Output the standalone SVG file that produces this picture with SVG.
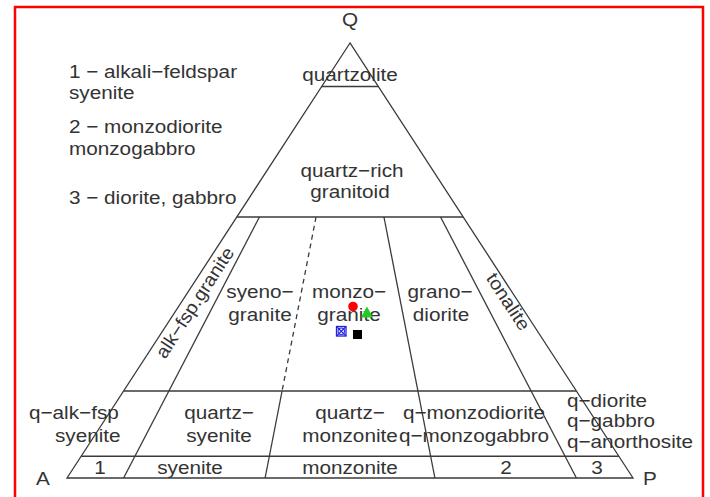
<svg xmlns="http://www.w3.org/2000/svg" width="710" height="497" viewBox="0 0 710 497">
<style>
.t{font-family:"Liberation Sans",Arial,Helvetica,sans-serif;font-size:18.5px;fill:#333}
.m{text-anchor:middle}
.ln{stroke:#3a3a3a;stroke-width:1.3;fill:none}
.ds{stroke-dasharray:5,4}
</style>
<rect x="0" y="0" width="710" height="497" fill="#fff"/>
<rect x="15" y="7" width="688" height="510" fill="none" stroke="#ff0000" stroke-width="2.5"/>
<g id="connectors">
<polygon class="ln" points="350,43 67,478 633,478"/>
<line class="ln" x1="321.7" y1="86.5" x2="378.3" y2="86.5"/>
<line class="ln" x1="236.8" y1="217" x2="463.2" y2="217"/>
<line class="ln" x1="123.6" y1="391" x2="576.4" y2="391"/>
<line class="ln" x1="81.15" y1="456.25" x2="618.85" y2="456.25"/>
<line class="ln" x1="259.44" y1="217" x2="123.6" y2="478"/>
<line class="ln ds" x1="316.04" y1="217" x2="282.08" y2="391"/>
<line class="ln" x1="282.08" y1="391" x2="265.1" y2="478"/>
<line class="ln" x1="383.96" y1="217" x2="434.9" y2="478"/>
<line class="ln" x1="440.56" y1="217" x2="576.4" y2="478"/>
</g>
<g id="vertices">
<text class="t m" transform="translate(350,26) scale(1.12,1)">Q</text>
<text class="t m" transform="translate(43,485) scale(1.12,1)">A</text>
<text class="t m" transform="translate(650,485) scale(1.12,1)">P</text>
</g>
<g id="legend">
<text class="t" transform="translate(69,78) scale(1.12,1)">1 − alkali−feldspar</text>
<text class="t" transform="translate(69,99) scale(1.12,1)">syenite</text>
<text class="t" transform="translate(69,133) scale(1.12,1)">2 − monzodiorite</text>
<text class="t" transform="translate(69,155) scale(1.12,1)">monzogabbro</text>
<text class="t" transform="translate(69,204) scale(1.12,1)">3 − diorite, gabbro</text>
</g>
<g id="quartzolite"><text class="t m" transform="translate(350,81) scale(1.12,1)">quartzolite</text></g>
<g id="quartz-rich"><text class="t m" transform="translate(352,177) scale(1.12,1)">quartz−rich</text>
<text class="t m" transform="translate(350,198) scale(1.12,1)">granitoid</text></g>
<g id="alk-fsp-granite"><text class="t m" transform="translate(200,306) rotate(-57) scale(1.06,1)">alk−fsp.granite</text></g>
<g id="syenogranite"><text class="t m" transform="translate(260,298) scale(1.12,1)">syeno−</text>
<text class="t m" transform="translate(260,321) scale(1.12,1)">granite</text></g>
<g id="monzogranite"><text class="t m" transform="translate(349,298) scale(1.12,1)">monzo−</text>
<text class="t m" transform="translate(349,321) scale(1.12,1)">granite</text></g>
<g id="granodiorite"><text class="t m" transform="translate(440,298) scale(1.12,1)">grano−</text>
<text class="t m" transform="translate(441,321) scale(1.12,1)">diorite</text></g>
<g id="tonalite"><text class="t m" transform="translate(503,305) rotate(57) scale(1.08,1)">tonalite</text></g>
<g id="q-alk-fsp-syenite"><text class="t" transform="translate(29,419) scale(1.12,1)">q−alk−fsp</text>
<text class="t" transform="translate(55,442) scale(1.12,1)">syenite</text></g>
<g id="quartz-syenite"><text class="t m" transform="translate(219,419) scale(1.12,1)">quartz−</text>
<text class="t m" transform="translate(219,442) scale(1.12,1)">syenite</text></g>
<g id="quartz-monzonite"><text class="t m" transform="translate(350,419) scale(1.12,1)">quartz−</text>
<text class="t m" transform="translate(350,442) scale(1.12,1)">monzonite</text></g>
<g id="q-monzodiorite"><text class="t m" transform="translate(474,419) scale(1.12,1)">q−monzodiorite</text>
<text class="t m" transform="translate(474,442) scale(1.12,1)">q−monzogabbro</text></g>
<g id="q-diorite"><text class="t" transform="translate(567,407) scale(1.12,1)">q−diorite</text>
<text class="t" transform="translate(567,427) scale(1.12,1)">q−gabbro</text>
<text class="t" transform="translate(567,448) scale(1.12,1)">q−anorthosite</text></g>
<g id="base-row">
<text class="t m" transform="translate(100,474) scale(1.12,1)">1</text>
<text class="t m" transform="translate(190,474) scale(1.12,1)">syenite</text>
<text class="t m" transform="translate(350,474) scale(1.12,1)">monzonite</text>
<text class="t m" transform="translate(506,474) scale(1.12,1)">2</text>
<text class="t m" transform="translate(597,474) scale(1.12,1)">3</text>
</g>
<g id="samples">
<circle cx="353" cy="306.5" r="4.8" fill="#ff0000"/>
<polygon points="367,306.5 373,317.5 361,317.5" fill="#22cc22"/>
<rect x="336.5" y="326.5" width="9.5" height="9.5" fill="none" stroke="#2222dd" stroke-width="1.3"/>
<path d="M336.5,326.5 L346,336 M346,326.5 L336.5,336" stroke="#2222dd" stroke-width="1.1"/>
<circle cx="341.25" cy="331.25" r="3.2" fill="none" stroke="#2222dd" stroke-width="1.1"/>
<rect x="353" y="330" width="9" height="9" fill="#000"/>
</g>
</svg>
